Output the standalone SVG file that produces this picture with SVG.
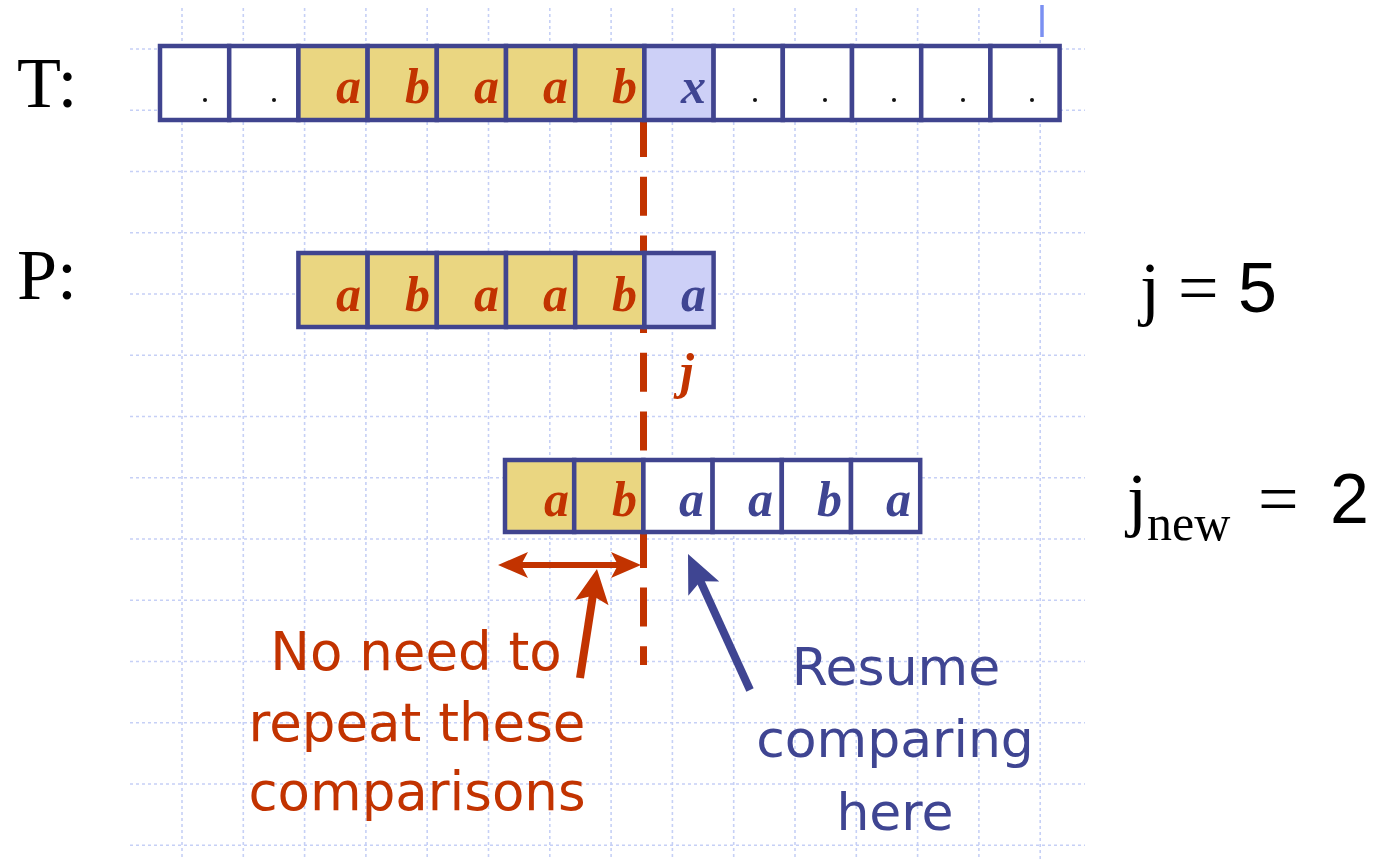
<svg xmlns="http://www.w3.org/2000/svg" width="1381" height="860" viewBox="0 0 1381 860">
<style>
.grid{stroke:#c6d0f6;stroke-width:1.6;stroke-dasharray:3 3;fill:none}
.cell{stroke:#40448f;stroke-width:4.5}
.y{fill:#ead681}
.l{fill:#cdd0f7}
.w{fill:#ffffff}
.ch{font-family:"Liberation Serif",serif;font-style:italic;font-weight:bold;font-size:50px;text-anchor:end}
.r{fill:#c23300}
.b{fill:#3f4592}
.dot{fill:#111}
.big{font-family:"Liberation Serif",serif;font-size:72px;fill:#000}
.num{font-family:"Liberation Sans",sans-serif;font-size:70px}
.sans{font-family:"DejaVu Sans",sans-serif;text-anchor:middle}
</style>
<defs>
<marker id="hr" markerUnits="userSpaceOnUse" viewBox="0 -14 30 28" refX="10" refY="0" markerWidth="30" markerHeight="28" orient="auto-start-reverse" overflow="visible">
<path d="M0,-13 L30,0 L0,13 L7,0 z" fill="#c23300"/>
</marker>
<marker id="hu" markerUnits="userSpaceOnUse" viewBox="0 -18 34 36" refX="14" refY="0" markerWidth="34" markerHeight="36" orient="auto" overflow="visible">
<path d="M0,-17 L34,0 L0,17 L7,0 z" fill="#c23300"/>
</marker>
<marker id="hb" markerUnits="userSpaceOnUse" viewBox="0 -18 38 36" refX="18" refY="0" markerWidth="38" markerHeight="36" orient="auto" overflow="visible">
<path d="M0,-17 L38,0 L0,17 L8,0 z" fill="#3f4592"/>
</marker>
</defs>
<rect width="1381" height="860" fill="#fff"/>
<g id="grid">
<path class="grid" d="M182,8V860M243.3,8V860M304.6,8V860M365.9,8V860M427.2,8V860M488.5,8V860M549.8,8V860M611.1,8V860M672.4,8V860M733.7,8V860M795,8V860M856.3,8V860M917.6,8V860M978.9,8V860M1040.2,40V860"/>
<path class="grid" d="M130,49H1085M130,110.25H1085M130,171.5H1085M130,232.75H1085M130,294H1085M130,355.25H1085M130,416.5H1085M130,477.75H1085M130,539H1085M130,600.25H1085M130,661.5H1085M130,722.75H1085M130,784H1085M130,845.25H1085"/>
<line x1="1042" y1="5" x2="1042" y2="37" stroke="#7b90f2" stroke-width="3.5"/>
</g>
<g id="connectors">
<line id="j-line" x1="643.5" y1="118" x2="643.5" y2="665" stroke="#c23300" stroke-width="7" stroke-dasharray="39 19.7"/>
</g>
<g id="T">
<rect class="cell w" x="160" y="46" width="69.2" height="74"/>
<rect class="cell w" x="229.2" y="46" width="69.2" height="74"/>
<rect class="cell y" x="298.4" y="46" width="69.2" height="74"/>
<rect class="cell y" x="367.6" y="46" width="69.2" height="74"/>
<rect class="cell y" x="436.8" y="46" width="69.2" height="74"/>
<rect class="cell y" x="506" y="46" width="69.2" height="74"/>
<rect class="cell y" x="575.2" y="46" width="69.2" height="74"/>
<rect class="cell l" x="644.4" y="46" width="69.2" height="74"/>
<rect class="cell w" x="713.6" y="46" width="69.2" height="74"/>
<rect class="cell w" x="782.8" y="46" width="69.2" height="74"/>
<rect class="cell w" x="852" y="46" width="69.2" height="74"/>
<rect class="cell w" x="921.2" y="46" width="69.2" height="74"/>
<rect class="cell w" x="990.4" y="46" width="69.2" height="74"/>
<circle class="dot" cx="205" cy="100" r="2"/>
<circle class="dot" cx="274" cy="100" r="2"/>
<circle class="dot" cx="755" cy="100" r="2"/>
<circle class="dot" cx="825" cy="100" r="2"/>
<circle class="dot" cx="894" cy="100" r="2"/>
<circle class="dot" cx="963" cy="100" r="2"/>
<circle class="dot" cx="1032" cy="100" r="2"/>
<text class="ch r" x="361" y="103">a</text>
<text class="ch r" x="430" y="103">b</text>
<text class="ch r" x="499" y="103">a</text>
<text class="ch r" x="568" y="103">a</text>
<text class="ch r" x="637" y="103">b</text>
<text class="ch b" x="706" y="103">x</text>
</g>
<g id="P">
<rect class="cell y" x="298.4" y="253" width="69.2" height="74"/>
<rect class="cell y" x="367.6" y="253" width="69.2" height="74"/>
<rect class="cell y" x="436.8" y="253" width="69.2" height="74"/>
<rect class="cell y" x="506" y="253" width="69.2" height="74"/>
<rect class="cell y" x="575.2" y="253" width="69.2" height="74"/>
<rect class="cell l" x="644.4" y="253" width="69.2" height="74"/>
<text class="ch r" x="361" y="311">a</text>
<text class="ch r" x="430" y="311">b</text>
<text class="ch r" x="499" y="311">a</text>
<text class="ch r" x="568" y="311">a</text>
<text class="ch r" x="637" y="311">b</text>
<text class="ch b" x="706" y="311">a</text>
</g>
<g id="Pshift">
<rect class="cell y" x="505" y="460" width="69.2" height="72"/>
<rect class="cell y" x="574.2" y="460" width="69.2" height="72"/>
<rect class="cell w" x="643.4" y="460" width="69.2" height="72"/>
<rect class="cell w" x="712.6" y="460" width="69.2" height="72"/>
<rect class="cell w" x="781.8" y="460" width="69.2" height="72"/>
<rect class="cell w" x="851" y="460" width="69.2" height="72"/>
<text class="ch r" x="569" y="516">a</text>
<text class="ch r" x="637" y="516">b</text>
<text class="ch b" x="704" y="516">a</text>
<text class="ch b" x="773" y="516">a</text>
<text class="ch b" x="842" y="516">b</text>
<text class="ch b" x="911" y="516">a</text>
</g>
<g id="arrows">
<line x1="518" y1="565" x2="621" y2="565" stroke="#c23300" stroke-width="6" marker-start="url(#hr)" marker-end="url(#hr)"/>
<line x1="580" y1="678" x2="593.9" y2="588.8" stroke="#c23300" stroke-width="8" marker-end="url(#hu)"/>
<line x1="750" y1="690" x2="696.3" y2="572.2" stroke="#3f4592" stroke-width="8" marker-end="url(#hb)"/>
</g>
<g id="labels">
<text class="big" x="17" y="107">T:</text>
<text class="big" x="17" y="299">P:</text>
<text class="big" x="1140" y="312">j =<tspan class="num" x="1238">5</tspan></text>
<text class="big" x="1127" y="523">j<tspan x="1147" y="540" font-size="50">new</tspan><tspan x="1258" y="523">=</tspan><tspan class="num" x="1330" y="523">2</tspan></text>
<text class="ch r" x="694" y="388">j</text>
</g>
<g id="note-left">
<text x="416" y="670" class="sans r" font-size="53">No need to</text>
<text x="417" y="741" class="sans r" font-size="53">repeat these</text>
<text x="417" y="810" class="sans r" font-size="53">comparisons</text>
</g>
<g id="note-right">
<text x="896" y="685" class="sans b" font-size="52">Resume</text>
<text x="895" y="757" class="sans b" font-size="52">comparing</text>
<text x="895" y="830" class="sans b" font-size="52">here</text>
</g>
</svg>
